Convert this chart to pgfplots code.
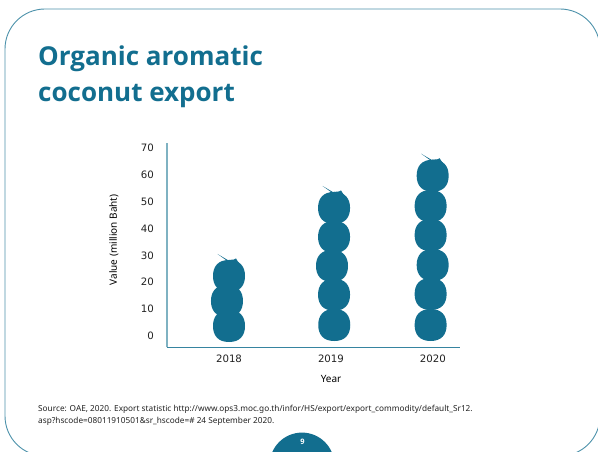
\documentclass[border=0pt]{standalone}
\usepackage{fontspec}
\usepackage{pgfplots}
\usepackage{pgfplotstable}
\pgfplotsset{compat=1.18}
\setmainfont{Noto Sans}
\newfontfamily\headfont{Open Sans}[BoldFont={Open Sans Bold}]
\newfontfamily\tickfont{DejaVu Sans}
\definecolor{teal1}{HTML}{126E8F}
\definecolor{teal2}{HTML}{7FB2C2}
\definecolor{ink}{HTML}{222222}

% One coconut of the pictogram: a slightly squared round body
\pgfdeclareplotmark{coconut}{%
  \pgfpathmoveto{\pgfqpoint{0pt}{-15pt}}%
  \pgfpathcurveto{\pgfqpoint{11pt}{-15pt}}{\pgfqpoint{16pt}{-8.5pt}}{\pgfqpoint{16pt}{1pt}}%
  \pgfpathcurveto{\pgfqpoint{16pt}{10.5pt}}{\pgfqpoint{11pt}{17pt}}{\pgfqpoint{0pt}{17pt}}%
  \pgfpathcurveto{\pgfqpoint{-11pt}{17pt}}{\pgfqpoint{-16pt}{10.5pt}}{\pgfqpoint{-16pt}{1pt}}%
  \pgfpathcurveto{\pgfqpoint{-16pt}{-8.5pt}}{\pgfqpoint{-11pt}{-15pt}}{\pgfqpoint{0pt}{-15pt}}%
  \pgfpathclose\pgfusepathqfill}
% Stalk and tip that crown the top coconut of a stack
\pgfdeclareplotmark{crown}{%
  \pgfpathmoveto{\pgfqpoint{-11.5pt}{23pt}}%
  \pgfpathlineto{\pgfqpoint{-0.5pt}{16.5pt}}%
  \pgfpathlineto{\pgfqpoint{-2pt}{16.2pt}}%
  \pgfpathclose
  \pgfpathmoveto{\pgfqpoint{-6pt}{15pt}}%
  \pgfpathlineto{\pgfqpoint{0pt}{17pt}}%
  \pgfpathlineto{\pgfqpoint{5pt}{17.5pt}}%
  \pgfpathlineto{\pgfqpoint{7pt}{18.5pt}}%
  \pgfpathlineto{\pgfqpoint{8.5pt}{16pt}}%
  \pgfpathlineto{\pgfqpoint{13pt}{10pt}}%
  \pgfpathlineto{\pgfqpoint{0pt}{5pt}}%
  \pgfpathclose\pgfusepathqfill}

% Centre of every coconut: year position and value
\pgfplotstableread{
x y
0.000 3.35
-0.020 12.66
0.000 21.97
1.032 3.72
1.030 15.00
1.010 25.70
1.030 36.50
1.030 47.30
1.977 3.72
1.977 15.26
1.997 26.06
1.977 37.20
1.977 48.00
1.997 59.30
}\coconuts
\pgfplotstableread{
x y
0.000 21.97
1.030 47.30
1.997 59.30
}\tops

\begin{document}
\begin{tikzpicture}[x=1pt,y=1pt]
\useasboundingbox (0,0) rectangle (598,452);
\clip (0,0) rectangle (598,452);
\fill[white] (0,0) rectangle (598,452);
% slide frame
\draw[teal1!75!white,line width=0.9pt,rounded corners=40pt] (5,-4) rectangle (600,443);
% page number tab
\fill[teal1] (302,-13) circle (32.4);
\node[text=white,font=\headfont\bfseries\fontsize{7.5}{9}\selectfont] at (302.5,10) {9};
% heading
\node[anchor=base west,text=teal1,font=\headfont\bfseries\fontsize{26}{36}\selectfont,inner sep=0pt] at (38,386.3) {Organic aromatic};
\node[anchor=base west,text=teal1,font=\headfont\bfseries\fontsize{26}{36}\selectfont,inner sep=0pt] at (38,350.3) {coconut export};
% source note
\node[anchor=base west,text=ink,font=\fontsize{8.25}{9}\selectfont,inner sep=0pt] at (38,40) {Source: OAE, 2020. Export statistic http://www.ops3.moc.go.th/infor/HS/export/export\_commodity/default\_Sr12.};
\node[anchor=base west,text=ink,font=\fontsize{8.25}{9}\selectfont,inner sep=0pt] at (38,28.5) {asp?hscode=08011910501\&sr\_hscode=\# 24 September 2020.};

\begin{axis}[
  at={(167pt,104.5pt)}, anchor=south west,
  scale only axis, width=293pt, height=204.5pt,
  xmin=-0.608, xmax=2.265, ymin=-4.28, ymax=71.85,
  axis lines=left, axis line style={-},
  x axis line style={teal1!85!white,line width=1pt},
  y axis line style={teal2,line width=1.4pt},
  xtick={0,1,2}, xticklabels={2018,2019,2020},
  ytick={0,10,...,70},
  major tick length=0pt,
  /pgf/number format/assume math mode=true,
  tick label style={font=\tickfont\fontsize{10.2}{12}\selectfont,text=ink},
  xticklabel style={yshift=-3.5pt},
  yticklabel style={xshift=-9.5pt},
  xlabel={Year}, ylabel={Value (million Baht)},
  label style={font=\tickfont\fontsize{9.6}{12}\selectfont,text=ink},
  every axis x label/.style={at={(axis description cs:0.56,-0.154)},anchor=center},
  every axis y label/.style={at={(axis description cs:-0.181,0.526)},rotate=90,anchor=center},
  clip=false,
]
\addplot[only marks,mark=coconut,teal1,mark options={fill=teal1,draw=none}] table[x=x,y=y] {\coconuts};
\addplot[only marks,mark=crown,teal1,mark options={fill=teal1,draw=none}] table[x=x,y=y] {\tops};
\end{axis}
\end{tikzpicture}
\end{document}
